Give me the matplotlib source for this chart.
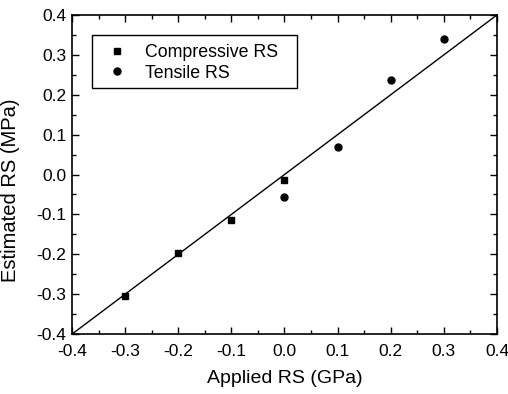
import matplotlib
matplotlib.use("Agg")
import matplotlib.pyplot as plt
from matplotlib.ticker import MultipleLocator
from matplotlib.patches import Rectangle

plt.rcParams['font.family'] = ['Liberation Sans', 'DejaVu Sans']

comp_x = [-0.3, -0.2, -0.1, 0.0]
comp_y = [-0.304, -0.196, -0.114, -0.014]
tens_x = [0.0, 0.1, 0.2, 0.3]
tens_y = [-0.056, 0.069, 0.236, 0.339]
fit_x = [-0.4, 0.4]
fit_y = [-0.4, 0.4]
ticks = [-0.4, -0.3, -0.2, -0.1, 0.0, 0.1, 0.2, 0.3, 0.4]

fig = plt.figure(figsize=(5.08, 3.94), dpi=100)
ax = fig.add_axes([0.1417, 0.152, 0.8366, 0.81])
ax.plot(fit_x, fit_y, color='black', lw=1.0)
ax.plot(comp_x, comp_y, 's', color='black', ms=5, label='Compressive RS')
ax.plot(tens_x, tens_y, 'o', color='black', ms=5, label='Tensile RS')
ax.set_xlim(-0.4, 0.4)
ax.set_ylim(-0.4, 0.4)
ax.set_xticks(ticks)
ax.set_yticks(ticks)
ax.set_xticklabels([f"{t:.1f}" for t in ticks])
ax.set_yticklabels([f"{t:.1f}" for t in ticks])
ax.xaxis.set_minor_locator(MultipleLocator(0.05))
ax.yaxis.set_minor_locator(MultipleLocator(0.05))
ax.tick_params(which='both', direction='in', top=True, right=True, labelsize=12.5)
ax.tick_params(which='major', length=5, width=1)
ax.tick_params(which='minor', length=3, width=1)
ax.tick_params(axis='x', which='major', pad=7)
ax.tick_params(axis='y', which='major', pad=4)
for s in ax.spines.values():
    s.set_linewidth(1.2)
ax.set_xlabel('Applied RS (GPa)', fontsize=14, labelpad=8)
ax.set_ylabel('Estimated RS (MPa)', fontsize=14.5)
ax.yaxis.set_label_coords(-0.122, 0.45)

ax.add_patch(Rectangle((0.047, 0.771), 0.482, 0.166, transform=ax.transAxes,
                       fill=False, edgecolor='black', lw=1.0, zorder=5))
leg = ax.legend(loc='upper left', bbox_to_anchor=(0.047, 0.937), fontsize=12.8,
                frameon=False, borderpad=0.5, handlelength=1.8,
                handletextpad=0.67, labelspacing=0.2, borderaxespad=0)
fig.savefig('out.png', dpi=100)
